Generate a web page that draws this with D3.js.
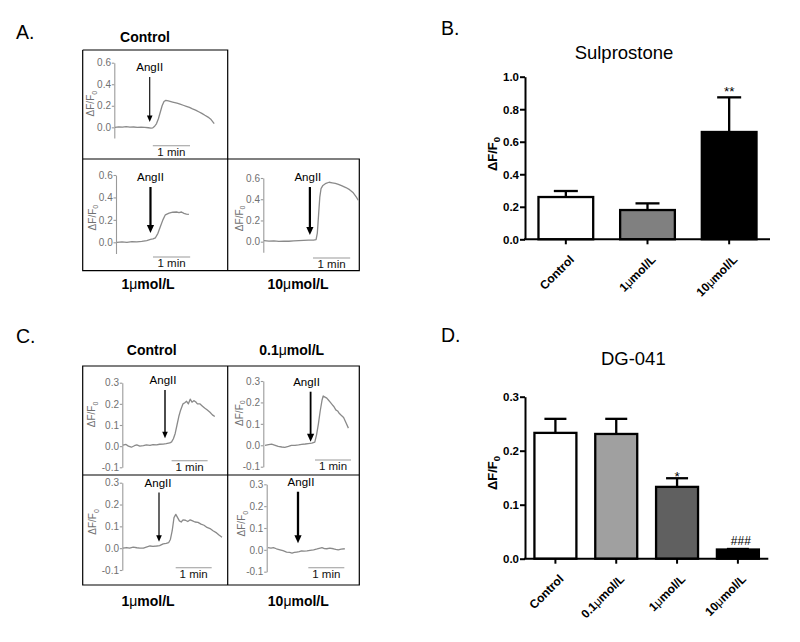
<!DOCTYPE html>
<html><head><meta charset="utf-8">
<script src="https://cdn.jsdelivr.net/npm/d3@7"></script>
<style>
body{margin:0;background:#fff}
svg{display:block;font-family:"Liberation Sans",Arial,Helvetica,sans-serif}
</style></head><body>
<svg id="fig" width="800" height="642"></svg>
<script>
// ================= DATA =================
// Panel A traces: [time (s), ΔF/F0]
const aControlTrace = [[0,0.0],[6,0.004],[12,0.002],[18,0.006],[24,0.001],[30,0.003],[36,-0.001],[42,0.002],[48,0.0],[54,-0.004],[58,-0.008],[61,-0.004],[64,0.01],[67,0.035],[70,0.08],[73,0.14],[76,0.2],[79,0.24],[82,0.25],[86,0.245],[93,0.235],[100,0.225],[105,0.215],[110,0.205],[115,0.195],[120,0.185],[125,0.172],[130,0.16],[135,0.145],[140,0.13],[145,0.112],[150,0.095],[155,0.072],[160,0.035]];
const a1Trace = [[0,0.0],[8,0.004],[16,0.0],[24,0.006],[32,0.003],[40,0.008],[48,0.015],[54,0.025],[58,0.03],[62,0.04],[66,0.08],[70,0.14],[74,0.2],[78,0.245],[84,0.26],[90,0.268],[96,0.27],[100,0.265],[104,0.27],[108,0.258],[112,0.252],[116,0.248]];
const a10Trace = [[0,0.01],[8,0.005],[16,0.008],[24,0.003],[32,0.006],[40,0.004],[48,0.008],[56,0.01],[64,0.012],[72,0.014],[80,0.015],[84,0.02],[86,0.08],[88,0.25],[90,0.42],[92,0.5],[95,0.53],[100,0.55],[105,0.56],[110,0.555],[115,0.55],[120,0.54],[126,0.525],[132,0.51],[138,0.49],[144,0.46],[149,0.42],[152,0.39]];
const aAngIITime = [56, 54, 74];
const aTicks = [0, 0.2, 0.4, 0.6];

// Panel C traces: [time (s), ΔF/F0]
const cControlTrace = [[0,0.005],[5,0.008],[9,0.0],[14,-0.005],[19,0.002],[23,0.006],[28,0.0],[34,0.002],[39,0.006],[45,0.004],[50,0.007],[56,0.006],[61,0.009],[67,0.01],[72,0.012],[78,0.015],[81,0.02],[84,0.035],[87,0.06],[90,0.1],[93,0.14],[96,0.17],[100,0.2],[103,0.205],[106,0.212],[109,0.2],[112,0.222],[115,0.208],[118,0.215],[121,0.21],[124,0.2],[128,0.2],[132,0.19],[136,0.18],[140,0.172],[145,0.16],[149,0.148],[153,0.14]];
const c01Trace = [[0,0.0],[6,0.003],[11,0.005],[17,0.0],[22,-0.005],[28,-0.008],[33,-0.01],[39,-0.005],[44,0.0],[50,0.0],[56,0.002],[61,0.004],[67,0.006],[72,0.008],[78,0.01],[83,0.015],[86,0.05],[89,0.1],[92,0.16],[95,0.21],[97,0.23],[100,0.225],[103,0.22],[106,0.21],[109,0.2],[112,0.19],[115,0.18],[118,0.165],[121,0.16],[124,0.148],[127,0.14],[131,0.13],[135,0.105],[139,0.08]];
const c1Trace = [[0,0.0],[6,0.003],[11,0.0],[17,0.005],[23,0.002],[28,0.0],[34,0.0],[40,0.006],[45,0.01],[50,0.008],[56,0.01],[61,0.012],[67,0.02],[72,0.022],[76,0.025],[79,0.04],[82,0.08],[85,0.14],[88,0.155],[91,0.14],[94,0.125],[97,0.12],[100,0.13],[104,0.128],[108,0.122],[112,0.13],[116,0.125],[120,0.12],[125,0.118],[130,0.11],[135,0.105],[140,0.095],[145,0.09],[150,0.08],[156,0.07],[160,0.06],[165,0.05]];
const c10Trace = [[0,0.01],[5,0.008],[9,0.01],[14,0.005],[20,0.0],[25,-0.004],[31,-0.01],[36,-0.012],[40,-0.015],[44,-0.012],[48,-0.01],[52,-0.008],[56,-0.005],[60,-0.006],[65,-0.005],[70,-0.002],[76,0.0],[82,0.004],[87,0.008],[90,0.01],[94,0.006],[98,0.005],[103,0.008],[109,0.005],[113,0.002],[117,0.0],[122,0.003],[128,0.005]];
const cAngIITime = [70, 76, 60, 50];
const cTicks = [-0.1, 0, 0.1, 0.2, 0.3];

// Panel B: Sulprostone
const bCategories = ["Control", "1μmol/L", "10μmol/L"];
const bMeans = [0.26, 0.18, 0.66];
const bErrors = [0.037, 0.041, 0.213];
const bSignif = ["", "", "**"];
const bTicks = [0, 0.2, 0.4, 0.6, 0.8, 1.0];

// Panel D: DG-041
const dCategories = ["Control", "0.1μmol/L", "1μmol/L", "10μmol/L"];
const dMeans = [0.233, 0.231, 0.133, 0.017];
const dErrors = [0.026, 0.028, 0.016, 0.001];
const dSignif = ["", "", "*", "###"];
const dTicks = [0, 0.1, 0.2, 0.3];

// ================= DRAWING =================
const svg = d3.select("#fig");
const fmt1 = d => d.toFixed(1);

function label(x, y, txt, size, opts = {}) {
  const t = svg.append("text").attr("x", x).attr("y", y)
    .attr("font-size", size).attr("fill", opts.fill || "#000")
    .attr("text-anchor", opts.anchor || "start")
    .attr("font-weight", opts.bold ? "bold" : "normal");
  return t.text(txt);
}
function muLabel(x, y, pre, post, size) {
  const t = svg.append("text").attr("x", x).attr("y", y).attr("font-size", size)
    .attr("font-weight", "bold").attr("text-anchor", "middle");
  t.append("tspan").text(pre);
  t.append("tspan").attr("font-weight", "normal").text("μ");
  t.append("tspan").text(post);
}

// Panel letters
label(16, 38.5, "A.", 19.5);
label(441, 35, "B.", 19.5);
label(16, 343, "C.", 19.5);
label(441, 342, "D.", 19.5);

// Group headers
label(145, 42, "Control", 14, {bold: true, anchor: "middle"});
muLabel(148, 289, "1", "mol/L", 14);
muLabel(298, 289, "10", "mol/L", 14);
label(151.7, 355, "Control", 14, {bold: true, anchor: "middle"});
muLabel(291.7, 355, "0.1", "mol/L", 14);
muLabel(148, 606, "1", "mol/L", 14);
muLabel(298.3, 606, "10", "mol/L", 14);

// Frames
svg.append("path").attr("fill", "none").attr("stroke", "#000").attr("stroke-width", 1.2)
  .attr("d", "M82.7,50H227.7V270.7M82.7,50V270.7H359.3V159H82.7");
svg.append("path").attr("fill", "none").attr("stroke", "#000").attr("stroke-width", 1.2)
  .attr("d", "M82.7,366H359.3V585H82.7Z M82.7,475H359.3 M227.7,366V585");

function tracePanel(c) {
  const g = svg.append("g");
  const x = d3.scaleLinear().domain([0, 180]).range([c.x0, c.x0 + 180 * c.pxs]);
  const y = d3.scaleLinear().domain(c.yDom).range(c.yRange);
  const ax = g.append("g").attr("transform", `translate(${c.axisX},0)`)
    .call(d3.axisLeft(y).tickValues(c.ticks).tickSize(2.5).tickSizeOuter(0).tickPadding(0.8).tickFormat(fmt1));
  ax.select(".domain").attr("stroke", "#9a9a9a").attr("stroke-width", 1.1);
  ax.selectAll(".tick line").attr("stroke", "#9a9a9a").attr("stroke-width", 1.1);
  ax.selectAll(".tick text").attr("fill", "#707070").attr("font-size", 10).attr("font-family", "Liberation Sans, Arial, sans-serif");
  // y label
  const ly = y(c.ylabV);
  const yl = g.append("text").attr("transform", `translate(${c.ylabX},${ly}) rotate(-90)`)
    .attr("text-anchor", "middle").attr("font-size", 10).attr("fill", "#707070");
  yl.append("tspan").text("ΔF/F");
  yl.append("tspan").attr("font-size", 7).attr("dy", 2.5).text("0");
  // trace
  g.append("path").datum(c.data).attr("fill", "none").attr("stroke", "#8a8a8a").attr("stroke-width", 1.3)
    .attr("stroke-linejoin", "round")
    .attr("d", d3.line().x(d => x(d[0])).y(d => y(d[1])));
  // arrow
  const axp = x(c.angT), yTop = y(c.arrowFrom), yTip = y(c.arrowTo);
  const hw = c.arrowW > 1.6 ? 3.6 : 2.8, hl = c.arrowW > 1.6 ? 8 : 6.5;
  g.append("line").attr("x1", axp).attr("x2", axp).attr("y1", yTop).attr("y2", yTip - hl + 1)
    .attr("stroke", "#000").attr("stroke-width", c.arrowW);
  g.append("path").attr("fill", "#000")
    .attr("d", `M${axp - hw},${yTip - hl}L${axp},${yTip}L${axp + hw},${yTip - hl}Z`);
  g.append("text").attr("x", axp + (c.angDx || 0)).attr("y", yTop - 6).attr("text-anchor", "middle")
    .attr("font-size", 11.5).text("AngII");
  // scale bar 1 min
  g.append("line").attr("x1", x(c.barT)).attr("x2", x(c.barT + 60)).attr("y1", c.barY).attr("y2", c.barY)
    .attr("stroke", "#9a9a9a").attr("stroke-width", 1.1);
  g.append("text").attr("x", (x(c.barT) + x(c.barT + 60)) / 2).attr("y", c.barY + 10)
    .attr("text-anchor", "middle").attr("font-size", 11.5).attr("fill", "#111").text("1 min");
}

// Panel A subplots
tracePanel({data: aControlTrace, angT: aAngIITime[0], x0: 115, pxs: 0.62, yDom: [-0.1, 0.6], yRange: [138.1, 62.7],
  ticks: aTicks, axisX: 114.3, ylabX: 94, ylabV: 0.22, arrowFrom: 0.467, arrowTo: 0.049, arrowW: 1.1, barT: 61, barY: 145.7});
tracePanel({data: a1Trace, angT: aAngIITime[1], x0: 117, pxs: 0.62, yDom: [-0.1, 0.6], yRange: [253.5, 175],
  ticks: aTicks, axisX: 116, ylabX: 95.5, ylabV: 0.22, arrowFrom: 0.493, arrowTo: 0.083, arrowW: 2.2, barT: 58, barY: 257});
tracePanel({data: a10Trace, angT: aAngIITime[2], x0: 264, pxs: 0.62, yDom: [-0.1, 0.6], yRange: [252.3, 178],
  ticks: aTicks, axisX: 263.3, ylabX: 242.5, ylabV: 0.22, arrowFrom: 0.515, arrowTo: 0.063, arrowW: 2.2, barT: 79, barY: 258, angDx: -2});

// Panel C subplots
tracePanel({data: cControlTrace, angT: cAngIITime[0], x0: 123, pxs: 0.6, yDom: [-0.1, 0.3], yRange: [467.3, 382.7],
  ticks: cTicks, axisX: 122.3, ylabX: 95, ylabV: 0.15, arrowFrom: 0.266, arrowTo: 0.037, arrowW: 1.4, barT: 81, barY: 460.7, angDx: -2});
tracePanel({data: c01Trace, angT: cAngIITime[1], x0: 265, pxs: 0.6, yDom: [-0.1, 0.3], yRange: [466.7, 381],
  ticks: cTicks, axisX: 263.3, ylabX: 242.5, ylabV: 0.15, arrowFrom: 0.25, arrowTo: 0.017, arrowW: 1.8, barT: 83.3, barY: 460, angDx: -4});
tracePanel({data: c1Trace, angT: cAngIITime[2], x0: 123, pxs: 0.6, yDom: [-0.1, 0.3], yRange: [570, 482.7],
  ticks: cTicks, axisX: 122.3, ylabX: 96, ylabV: 0.12, arrowFrom: 0.255, arrowTo: 0.03, arrowW: 1.2, barT: 87.8, barY: 567.7, angDx: -1});
tracePanel({data: c10Trace, angT: cAngIITime[3], x0: 268, pxs: 0.6, yDom: [-0.1, 0.3], yRange: [571.7, 484.3],
  ticks: cTicks, axisX: 266.7, ylabX: 245, ylabV: 0.12, arrowFrom: 0.266, arrowTo: 0.03, arrowW: 2.3, barT: 67.2, barY: 567.7, angDx: 3});

// Bar charts
function barPanel(c) {
  const g = svg.append("g");
  const x = d3.scaleBand().domain(c.cats).range([c.x0, c.x1]).paddingInner(c.pad).paddingOuter(c.pad / 2);
  const y = d3.scaleLinear().domain(c.yDom).range([c.y0, c.y1]);
  c.cats.forEach((cat, i) => {
    const cx = x(cat) + x.bandwidth() / 2;
    const top = y(c.means[i] + c.errs[i]);
    g.append("line").attr("x1", cx).attr("x2", cx).attr("y1", y(c.means[i])).attr("y2", top)
      .attr("stroke", "#000").attr("stroke-width", 2.3);
    g.append("line").attr("x1", cx - c.cap / 2).attr("x2", cx + c.cap / 2).attr("y1", top).attr("y2", top)
      .attr("stroke", "#000").attr("stroke-width", 2.3);
    g.append("rect").attr("x", x(cat)).attr("width", x.bandwidth())
      .attr("y", y(c.means[i])).attr("height", y(0) - y(c.means[i]))
      .attr("fill", c.fills[i]).attr("stroke", "#000").attr("stroke-width", 2.3);
    if (c.sig[i]) {
      const isHash = c.sig[i].startsWith("#");
      g.append("text").attr("x", cx + (isHash ? 3 : 0)).attr("y", top + (isHash ? -4 : c.sigDy))
        .attr("text-anchor", "middle").attr("font-size", isHash ? 12 : 13.5).text(c.sig[i]);
    }
  });
  // y axis
  const ya = g.append("g").attr("transform", `translate(${c.x0},0)`)
    .call(d3.axisLeft(y).tickValues(c.ticks).tickSize(5).tickSizeOuter(0).tickPadding(1).tickFormat(fmt1));
  ya.select(".domain").attr("stroke", "#000").attr("stroke-width", 2);
  ya.selectAll(".tick line").attr("stroke", "#000").attr("stroke-width", 2);
  ya.selectAll(".tick text").attr("fill", "#000").attr("font-size", 11.5).attr("font-weight", "bold")
    .attr("font-family", "Liberation Sans, Arial, sans-serif").attr("dy", "0.34em");
  // x axis
  g.append("line").attr("x1", c.x0 - 1).attr("x2", c.x1).attr("y1", y(0)).attr("y2", y(0))
    .attr("stroke", "#000").attr("stroke-width", 2);
  c.cats.forEach(cat => {
    const cx = x(cat) + x.bandwidth() / 2;
    g.append("line").attr("x1", cx).attr("x2", cx).attr("y1", y(0)).attr("y2", y(0) + 5)
      .attr("stroke", "#000").attr("stroke-width", 2);
    const t = g.append("text").attr("transform", `translate(${cx + 9},${y(0) + 21}) rotate(-45)`)
      .attr("text-anchor", "end").attr("font-size", 12).attr("font-weight", "bold");
    const k = cat.indexOf("μ");
    if (k >= 0) {
      t.append("tspan").text(cat.slice(0, k));
      t.append("tspan").attr("font-weight", "normal").text("μ");
      t.append("tspan").text(cat.slice(k + 1));
    } else t.text(cat);
  });
  // y label
  const yl = g.append("text").attr("transform", `translate(${c.ylabX},${c.ylabY}) rotate(-90)`)
    .attr("text-anchor", "middle").attr("font-size", 13).attr("font-weight", "bold");
  yl.append("tspan").text("ΔF/F");
  yl.append("tspan").attr("font-size", 9.5).attr("dy", 3).text("0");
  // title
  g.append("text").attr("x", c.titleX).attr("y", c.titleY).attr("text-anchor", "middle")
    .attr("font-size", 18.5).text(c.title);
}

barPanel({cats: bCategories, means: bMeans, errs: bErrors, sig: bSignif, ticks: bTicks,
  fills: ["#ffffff", "#808080", "#000000"], x0: 525, x1: 770, y0: 239.3, y1: 76.7, yDom: [0, 1],
  pad: 0.33, cap: 24, sigDy: -1.5, ylabX: 497, ylabY: 154, title: "Sulprostone", titleX: 624, titleY: 59});
barPanel({cats: dCategories, means: dMeans, errs: dErrors, sig: dSignif, ticks: dTicks,
  fills: ["#ffffff", "#a0a0a0", "#606060", "#000000"], x0: 525, x1: 768.3, y0: 558.7, y1: 396.7, yDom: [0, 0.3],
  pad: 0.31, cap: 22, sigDy: 2.5, ylabX: 497, ylabY: 473, title: "DG-041", titleX: 633.3, titleY: 365});
</script>
</body></html>
